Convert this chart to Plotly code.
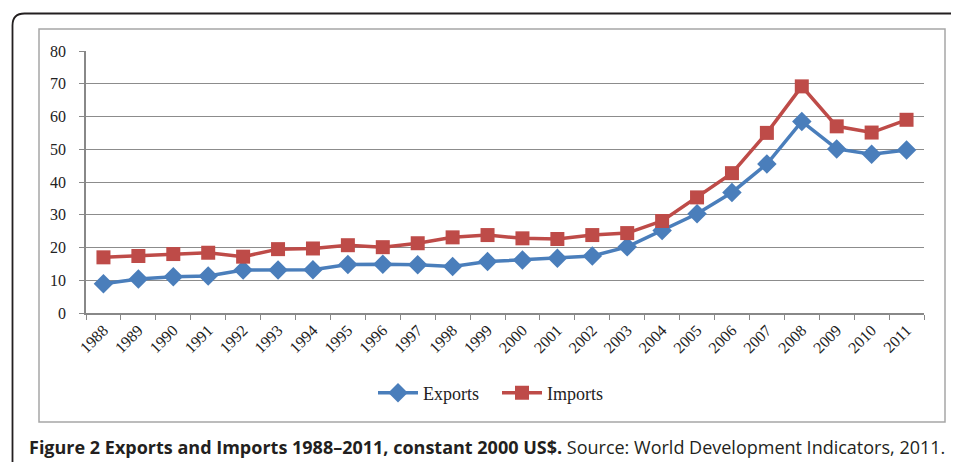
import plotly.graph_objects as go

years = [str(y) for y in range(1988, 2012)]
exports = [8.9, 10.4, 11.1, 11.3, 13.1, 13.1, 13.2, 14.8, 14.9, 14.7, 14.2, 15.7,
           16.2, 16.7, 17.4, 20.2, 25.2, 30.3, 36.8, 45.5, 58.5, 50.1, 48.5, 49.8]
imports = [17.0, 17.4, 18.0, 18.4, 17.2, 19.5, 19.7, 20.7, 20.1, 21.3, 23.1, 23.8,
           22.8, 22.6, 23.8, 24.4, 28.1, 35.3, 42.7, 55.0, 69.2, 57.0, 55.1, 59.0]
y_ticks = [0, 10, 20, 30, 40, 50, 60, 70, 80]

OFF = 8  # page body margin
W, H = 959 - OFF, 462 - OFF
L, R, T, B = 86 - OFF, 924 - OFF, 51 - OFF, 313 - OFF  # plot area in figure pixels


def px(x):
    return (x - OFF - L) / (R - L)


def py(y):
    return (B - (y - OFF)) / (B - T)


fig = go.Figure()
fig.add_trace(go.Scatter(x=years, y=exports, name="Exports", mode="lines+markers",
                         line=dict(color="#4a7ebb", width=3.5),
                         marker=dict(symbol="diamond", size=15, color="#4a7ebb")))
fig.add_trace(go.Scatter(x=years, y=imports, name="Imports", mode="lines+markers",
                         line=dict(color="#be4b48", width=3.5),
                         marker=dict(symbol="square", size=14, color="#be4b48")))

serif = "Liberation Serif, DejaVu Serif, serif"
fig.update_layout(
    width=W, height=H,
    margin=dict(l=L, r=W - R, t=T, b=H - B, autoexpand=False),
    paper_bgcolor="white", plot_bgcolor="white",
    font=dict(family=serif, color="#222", size=15),
    showlegend=True,
    legend=dict(orientation="h", x=px(497), xanchor="center", y=py(393), yanchor="middle",
                font=dict(family=serif, size=18, color="#222"), itemwidth=40,
                entrywidth=69, bgcolor="rgba(0,0,0,0)"),
    xaxis=dict(type="category", tickangle=-45, tickson="boundaries", ticks="outside",
               ticklen=5, tickcolor="#888", showline=True, linecolor="#888", linewidth=1.5,
               showgrid=False, tickfont=dict(family=serif, size=16, color="#222"),
               range=[-0.5, 23.5]),
    yaxis=dict(range=[0, 80], tickvals=y_ticks, ticks="outside", ticklen=5, tickcolor="#888",
               showline=True, linecolor="#888", linewidth=1.5, showgrid=True,
               gridcolor="#8c8c8c", gridwidth=1, zeroline=False,
               tickfont=dict(family=serif, size=16, color="#222"), ticklabelstandoff=10),
)

# inner chart frame (gray)
fig.add_shape(type="rect", xref="paper", yref="paper", x0=px(39), x1=px(945), y0=py(422), y1=py(29),
              line=dict(color="#a6a6a6", width=1.5), fillcolor="rgba(0,0,0,0)", layer="below")

# outer rounded border (top-left corner visible)
r = 12
x0, y0 = 12.5, 13.5
x_end, y_end = 975, 480
path = (f"M {px(x0)},{py(y_end)} L {px(x0)},{py(y0 + r)} "
        f"Q {px(x0)},{py(y0)} {px(x0 + r)},{py(y0)} L {px(x_end)},{py(y0)}")
fig.add_shape(type="path", xref="paper", yref="paper", path=path,
              line=dict(color="#231f20", width=1.8))

caption = ("<b>Figure 2 Exports and Imports 1988\u20132011, constant 2000 US$.</b> "
           "Source: World Development Indicators, 2011.")
fig.add_annotation(xref="paper", yref="paper", x=px(27), y=py(447), xanchor="left", yanchor="middle",
                   text=caption, showarrow=False,
                   font=dict(family="Open Sans, Lato, sans-serif", size=18, color="#231f20"))

fig.write_html("out.html")
